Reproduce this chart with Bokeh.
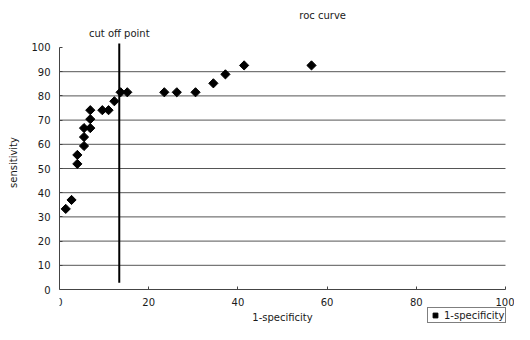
import numpy as np
from bokeh.plotting import figure
from bokeh.models import Range1d, FixedTicker, Label
from bokeh.embed import file_html
from bokeh.resources import INLINE

# data
one_minus_specificity = [1.4, 2.7, 4.0, 4.0, 5.5, 5.5, 5.5, 6.9, 6.9, 6.9, 9.6, 11.0,
                         12.3, 13.7, 15.2, 23.5, 26.3, 30.5, 34.5, 37.2, 41.4, 56.5]
sensitivity = [33.3, 37.0, 51.9, 55.6, 59.3, 63.0, 66.7, 66.7, 70.4, 74.1, 74.1, 74.1,
               77.8, 81.5, 81.5, 81.5, 81.5, 81.5, 85.2, 88.9, 92.6, 92.6]
cutoff_x = 13.4
cutoff_y = [2.8, 101.65]
x_ticks = [0, 20, 40, 60, 80, 100]
y_ticks = [0, 10, 20, 30, 40, 50, 60, 70, 80, 90, 100]
grid_ticks = [10, 20, 30, 40, 50, 60, 70, 80, 90]

FONT = "DejaVu Sans"
TXT = "#1a1a1a"

p = figure(width=514, height=324, output_backend="svg", toolbar_location=None,
           x_range=Range1d(0, 102.02), y_range=Range1d(-14.46, 119.42),
           min_border_left=59, min_border_right=0, min_border_top=0, min_border_bottom=0)
p.outline_line_color = None
p.background_fill_color = "white"

# axes
for ax in (p.xaxis[0], p.yaxis[0]):
    ax.major_label_text_font = FONT
    ax.major_label_text_font_size = "10px"
    ax.major_label_text_color = TXT
    ax.axis_label_text_font = FONT
    ax.axis_label_text_font_size = "10px"
    ax.axis_label_text_font_style = "normal"
    ax.axis_label_text_color = TXT
    ax.axis_line_color = "#444444"
    ax.major_tick_line_color = "#444444"
    ax.major_tick_in = 3
    ax.major_tick_out = 0
    ax.minor_tick_line_color = None

p.xaxis.ticker = FixedTicker(ticks=x_ticks)
p.yaxis.ticker = FixedTicker(ticks=y_ticks)
p.yaxis.bounds = (0, 100)
p.xaxis.bounds = (0, 100)
p.xaxis.fixed_location = 0
p.xaxis.axis_label = "1-specificity"
p.yaxis.axis_label = "sensitivity"
p.xaxis.major_label_standoff = 8
p.xaxis.axis_label_standoff = 3
p.yaxis.major_label_standoff = 9
p.yaxis.axis_label_standoff = 9

# horizontal grid lines spanning the axis extent only
p.xgrid.grid_line_color = None
p.ygrid.grid_line_color = None
p.segment(x0=x_ticks[0], x1=x_ticks[-1], y0=grid_ticks, y1=grid_ticks,
          line_color="#555555", line_width=1)

# title and cut off annotation
p.add_layout(Label(x=59, y=113.2, text="roc curve", text_align="center",
                   text_baseline="middle", text_font=FONT, text_font_size="10px",
                   text_color=TXT))
p.segment(x0=cutoff_x, y0=cutoff_y[0], x1=cutoff_x, y1=cutoff_y[1],
          line_color="black", line_width=2)
p.add_layout(Label(x=cutoff_x, y=105.8, text="cut off point", text_align="center",
                   text_baseline="middle", text_font=FONT, text_font_size="10px",
                   text_color=TXT))

p.scatter(one_minus_specificity, sensitivity, marker="square", angle=np.pi / 4, size=6.5,
          fill_color="black", line_color="black", legend_label="1-specificity")

lg = p.legend[0]
lg.location = (368, 1)
lg.padding = 1
lg.margin = 0
lg.spacing = 0
lg.glyph_width = 12
lg.glyph_height = 12
lg.label_height = 12
lg.label_standoff = 3
lg.label_text_font = FONT
lg.label_text_font_size = "10px"
lg.label_text_font_style = "normal"
lg.label_text_color = TXT
lg.border_line_color = "black"
lg.border_line_width = 1
lg.background_fill_alpha = 1

open("out.html", "w").write(file_html(p, INLINE))
